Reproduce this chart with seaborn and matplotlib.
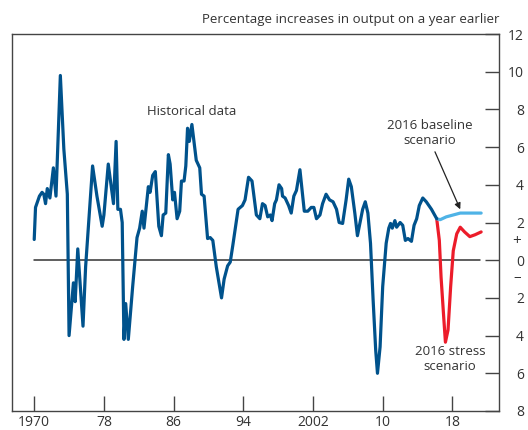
import matplotlib
matplotlib.use("Agg")
import matplotlib.pyplot as plt
import seaborn as sns
import pandas as pd

# ---- data ----
hist_year = [1970.0, 1970.15, 1970.6, 1970.9, 1971.1, 1971.3, 1971.5, 1971.8, 1972.2, 1972.5,
             1973.0, 1973.4, 1973.8, 1974.0, 1974.5, 1974.7, 1975.0, 1975.6, 1975.9, 1976.7,
             1977.2, 1977.8, 1978.0, 1978.5, 1979.1, 1979.4, 1979.6, 1979.9, 1980.1, 1980.3,
             1980.5, 1980.8, 1981.3, 1981.8, 1982.1, 1982.4, 1982.6, 1983.1, 1983.3, 1983.6,
             1983.9, 1984.3, 1984.6, 1984.8, 1985.1, 1985.4, 1985.6, 1985.9, 1986.1, 1986.4,
             1986.7, 1986.9, 1987.2, 1987.4, 1987.6, 1987.8, 1988.1, 1988.6, 1989.0, 1989.2,
             1989.5, 1989.9, 1990.2, 1990.5, 1990.9, 1991.5, 1991.8, 1992.2, 1992.5, 1992.8,
             1993.4, 1993.9, 1994.2, 1994.6, 1995.0, 1995.5, 1995.9, 1996.2, 1996.5, 1996.8,
             1997.1, 1997.3, 1997.6, 1997.8, 1998.1, 1998.4, 1998.5, 1998.8, 1999.2, 1999.5,
             1999.8, 2000.1, 2000.5, 2001.0, 2001.4, 2001.8, 2002.1, 2002.4, 2002.8, 2003.1,
             2003.5, 2003.9, 2004.3, 2004.7, 2005.0, 2005.4, 2005.8, 2006.1, 2006.4, 2006.8,
             2007.1, 2007.4, 2007.7, 2008.0, 2008.3, 2008.6, 2008.9, 2009.2, 2009.4, 2009.7,
             2010.0, 2010.4, 2010.7, 2010.9, 2011.1, 2011.4, 2011.6, 2012.0, 2012.3, 2012.6,
             2012.9, 2013.3, 2013.6, 2013.9, 2014.2, 2014.6, 2015.0, 2015.6, 2016.2]
hist_val = [1.1, 2.8, 3.4, 3.6, 3.5, 3.0, 3.8, 3.3, 4.9, 3.4,
            9.8, 5.9, 3.5, -4.0, -1.2, -2.2, 0.6, -3.5, -0.35, 5.0,
            3.4, 1.8, 2.4, 5.1, 3.0, 6.3, 2.7, 2.7, 2.0, -4.2,
            -2.3, -4.2, -1.4, 1.2, 1.7, 2.6, 1.7, 3.9, 3.6, 4.5,
            4.7, 1.8, 1.3, 2.4, 2.5, 5.6, 5.1, 3.2, 3.6, 2.2,
            2.6, 4.2, 4.2, 5.0, 7.0, 6.3, 7.2, 5.3, 4.9, 3.5,
            3.4, 1.15, 1.2, 1.05, -0.35, -2.0, -1.0, -0.3, -0.1, 0.8,
            2.7, 2.9, 3.2, 4.4, 4.2, 2.4, 2.2, 3.0, 2.9, 2.3,
            2.4, 2.1, 3.0, 3.2, 4.0, 3.8, 3.4, 3.3, 2.9, 2.5,
            3.4, 3.7, 4.8, 2.6, 2.6, 2.8, 2.8, 2.2, 2.4, 3.0,
            3.5, 3.2, 3.1, 2.7, 2.0, 1.95, 3.2, 4.3, 3.9, 2.5,
            1.3, 2.0, 2.7, 3.1, 2.5, 0.9, -2.1, -4.8, -6.0, -4.6,
            -1.4, 0.9, 1.7, 1.95, 1.7, 2.1, 1.75, 2.0, 1.85, 1.05,
            1.15, 1.0, 1.85, 2.2, 2.9, 3.3, 3.1, 2.7, 2.2]

base_year = [2016.2, 2016.6, 2017.3, 2018.1, 2018.9, 2020.0, 2021.3]
base_val = [2.2, 2.15, 2.3, 2.4, 2.5, 2.5, 2.5]

stress_year = [2016.2, 2016.5, 2016.7, 2017.0, 2017.2, 2017.5, 2017.8, 2018.1, 2018.5,
               2018.9, 2019.4, 2020.0, 2020.6, 2021.3]
stress_val = [2.2, 1.05, -0.9, -3.0, -4.35, -3.7, -1.4, 0.5, 1.4,
              1.75, 1.5, 1.25, 1.35, 1.5]

xtick_pos = [1970, 1978, 1986, 1994, 2002, 2010, 2018]
xtick_lab = ["1970", "78", "86", "94", "2002", "10", "18"]
ytick_pos = [-8, -6, -4, -2, 0, 2, 4, 6, 8, 10, 12]
ytick_lab = ["8", "6", "4", "2", "0", "2", "4", "6", "8", "10", "12"]

# ---- style ----
sns.set_style("white")
plt.rcParams["font.family"] = ["Open Sans", "DejaVu Sans"]
TXT = "#333333"

fig = plt.figure(figsize=(5.28, 4.30), dpi=100)
ax = fig.add_axes([12 / 528, 19 / 430, 487 / 528, 377 / 430])

DARK = "#00528c"
LIGHT = "#4fb3e6"
RED = "#ec1c2a"

ax.plot([1970, 2021.2], [0, 0], color="#333333", lw=1.1, zorder=1)

hist = pd.DataFrame({"year": hist_year, "val": hist_val})
base = pd.DataFrame({"year": base_year, "val": base_val})
stress = pd.DataFrame({"year": stress_year, "val": stress_val})
sns.lineplot(data=stress, x="year", y="val", ax=ax, color=RED, lw=2.3, zorder=3)
sns.lineplot(data=base, x="year", y="val", ax=ax, color=LIGHT, lw=2.3, zorder=3)
sns.lineplot(data=hist, x="year", y="val", ax=ax, color=DARK, lw=2.3, zorder=4)

ax.set_xlim(1967.45, 2023.35)
ax.set_ylim(-8, 12)
ax.set_xlabel("")
ax.set_ylabel("")

ax.set_xticks(xtick_pos)
ax.set_xticklabels(xtick_lab)
ax.set_yticks(ytick_pos)
ax.set_yticklabels(ytick_lab)
ax.yaxis.tick_right()
ax.tick_params(axis="x", direction="in", length=11, width=1, color="#444444",
               labelsize=10, labelcolor=TXT, pad=3, bottom=True, top=False)
ax.tick_params(axis="y", direction="in", length=10, width=1, color="#444444",
               labelsize=10, labelcolor=TXT, pad=18, right=True, left=False)
for lab in ax.get_yticklabels():
    lab.set_horizontalalignment("right")

for s in ax.spines.values():
    s.set_color("#444444")
    s.set_linewidth(1.0)
    s.set_visible(True)

# annotations
fig.text(499 / 528, 1 - 20 / 430, "Percentage increases in output on a year earlier",
         ha="right", va="center", fontsize=9.5, color=TXT)
fig.text(517 / 528, 1 - 241 / 430, "+", ha="center", va="center", fontsize=11, color=TXT)
fig.text(517 / 528, 1 - 278 / 430, "\u2013", ha="center", va="center", fontsize=11, color=TXT)

ax.text(1983.0, 7.9, "Historical data", ha="left", va="center", fontsize=9.5, color=TXT)
ax.text(2015.45, 6.75, "2016 baseline\nscenario", ha="center", va="center", fontsize=9.5,
        color=TXT, linespacing=1.2)
ax.text(2017.75, -5.25, "2016 stress\nscenario", ha="center", va="center", fontsize=9.5,
        color=TXT, linespacing=1.2)
ax.annotate("", xy=(2018.9, 2.7), xytext=(2016.0, 5.75),
            arrowprops=dict(arrowstyle="-|>", color="#222222", lw=0.9,
                            mutation_scale=9, shrinkA=0, shrinkB=0))

fig.savefig("out.png", dpi=100)
